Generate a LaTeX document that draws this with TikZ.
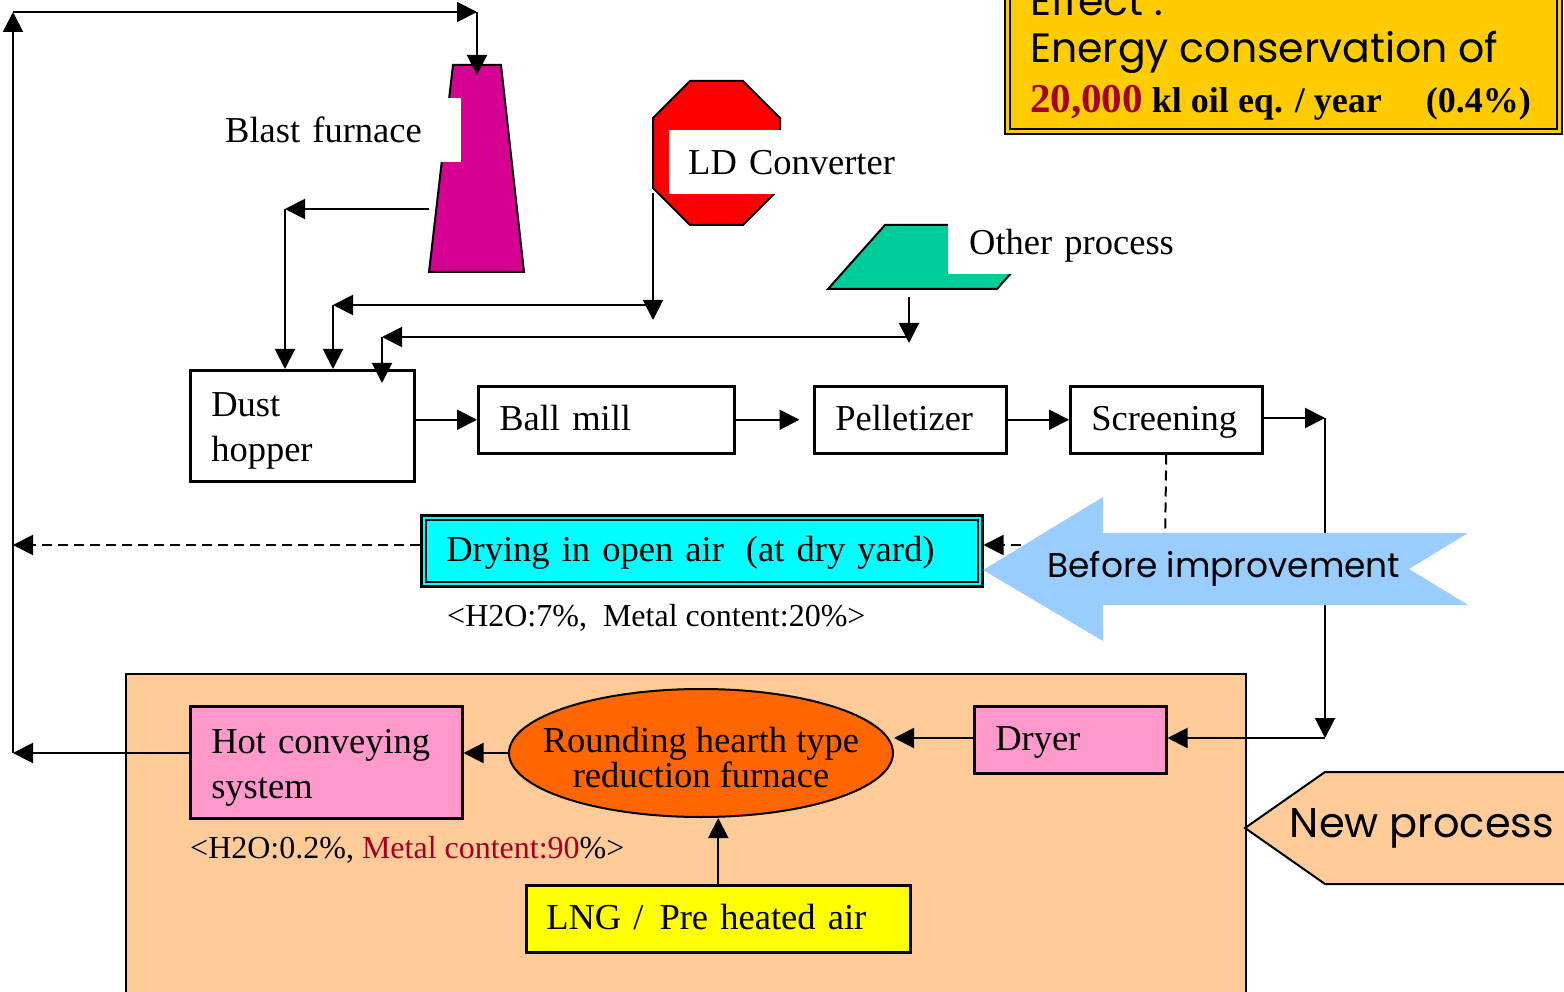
\documentclass[tikz,border=0pt]{standalone}
\usepackage{fontspec}
\setmainfont{Liberation Serif}
\newfontfamily\geofont{Poppins}
\usetikzlibrary{arrows.meta,shapes.geometric}
\definecolor{furnmag}{HTML}{D60093}
\definecolor{convred}{HTML}{FF0000}
\definecolor{othgreen}{HTML}{00CC99}
\definecolor{drycyan}{HTML}{00FFFF}
\definecolor{boxpink}{HTML}{FF99CC}
\definecolor{furnorange}{HTML}{FF6600}
\definecolor{lngyellow}{HTML}{FFFF00}
\definecolor{newpeach}{HTML}{FFCC99}
\definecolor{effgold}{HTML}{FFCC00}
\definecolor{oldblue}{HTML}{99CCFF}
\definecolor{hilite}{HTML}{A50021}
\newcommand{\bodyfont}{\fontsize{36.5}{45}\selectfont}
\newcommand{\notefont}{\fontsize{32}{38}\selectfont}
\newcommand{\firstline}{\rule{0pt}{35pt}}

\begin{document}
\begin{tikzpicture}[x=1pt,y=-1pt,
  conn/.style={line width=2pt,-{Triangle[length=20pt,width=20pt]}},
  dconn/.style={conn,dash pattern=on 10pt off 6pt},
  dline/.style={line width=2pt,dash pattern=on 10pt off 6pt},
  procbox/.style={draw,line width=2.5pt,rectangle,anchor=north west,inner xsep=21pt,inner ysep=0pt,align=left,font=\bodyfont},
  oneline/.style={text height=29pt,text depth=7pt},
  tag/.style={fill=white,rectangle,anchor=north west,inner ysep=0pt,align=left,font=\bodyfont},
  outline/.style={draw,line width=2pt}]

\useasboundingbox (0,0) rectangle (1564,992);
\clip (0,0) rectangle (1564,992);

% ---------- area of the new process ----------
\node[outline,fill=newpeach,anchor=north west,minimum width=1120pt,minimum height=340pt,inner sep=0] (region) at (125,673) {};

% ---------- sources ----------
% blast furnace
\draw[outline,fill=furnmag] (453,65) -- (501,65) -- (524,272) -- (429,272) -- cycle;
\node[tag,text width=226pt,inner xsep=10pt,minimum height=64pt] (bflabel) at (215,98) {Blast furnace};
% LD converter
\draw[outline,fill=convred] (690,81) -- (743,81) -- (780,118) -- (780,188) -- (743,225) -- (690,225) -- (653,188) -- (653,118) -- cycle;
\node[tag,text width=215pt,inner xsep=19pt,minimum height=64pt] (ldlabel) at (669,130) {LD Converter};
% other process
\draw[outline,fill=othgreen] (885,225) -- (1054,225) -- (997,289) -- (828,289) -- cycle;
\node[tag,oneline,text width=215pt,inner xsep=21pt,minimum height=62pt] (oplabel) at (948,212) {Other process};

% ---------- conventional line ----------
\node[procbox,text width=182pt,minimum height=111pt] (hop) at (189,369) {\firstline Dust\\hopper};
\node[procbox,oneline,text width=214pt,minimum height=67pt] (mill) at (477,385) {Ball mill};
\node[procbox,oneline,text width=150pt,minimum height=67pt] (pel) at (813,385) {Pelletizer};
\node[procbox,oneline,text width=150pt,minimum height=67pt] (scr) at (1069,385) {Screening};

\node[procbox,oneline,fill=drycyan,inner xsep=25pt,text width=511pt,minimum height=71pt] (dryyard) at (420,514) {Drying in open air\hspace{22pt}(at dry yard)};
\draw[line width=2pt] ([shift={(6,6)}]dryyard.north west) rectangle ([shift={(-6,-6)}]dryyard.south east);
\node[font=\notefont,anchor=base west,inner sep=0] (oldnote) at (447,626) {<H2O:7\%,\ \ Metal content:20\%>};

% ---------- new line ----------
\node[procbox,fill=boxpink,text width=230pt,minimum height=112pt] (hot) at (189,705) {\firstline Hot conveying\\system};
\node[draw,line width=2pt,fill=furnorange,ellipse,minimum width=384pt,minimum height=128pt,inner sep=0,
  label={[font=\fontsize{36.5}{35}\selectfont,align=center,yshift=-5pt]center:Rounding hearth type\\reduction furnace}] (furn) at (701,753) {};
\node[procbox,oneline,fill=boxpink,text width=150pt,minimum height=67pt] (dryer) at (973,705) {Dryer};
\node[procbox,oneline,fill=lngyellow,inner xsep=20pt,text width=344pt,minimum height=67pt] (lng) at (525,884) {LNG /\hspace{16pt}Pre heated air};
\node[font=\notefont,anchor=base west,inner sep=0] (newnote) at (190,858) {<H2O:0.2\%, {\color{hilite}Metal content:90}\%>};

\draw[outline,fill=newpeach] (1245,828) -- (1325,772) -- (1580,772) -- (1580,884) -- (1325,884) -- cycle;
\node[font=\geofont\fontsize{41.5}{48}\selectfont] (newlbl) at (1422,828) {New process};

% ---------- effect ----------
\draw[line width=2.5pt,fill=effgold] (1005,-20) rectangle (1562,134);
\draw[line width=2pt] (1010,-20) rectangle (1557,129);
\node[anchor=base west,inner sep=0,font=\geofont\fontsize{41}{48}\selectfont] (eff1) at (1030,16) {Effect :};
\node[anchor=base west,inner sep=0,font=\geofont\fontsize{41}{48}\selectfont] (eff2) at (1030,63) {Energy conservation of};
\node[anchor=base west,inner sep=0] (eff3) at (1030,113) {{\color{hilite}\fontsize{41}{46}\selectfont\bfseries 20,000}\fontsize{36}{42}\selectfont\bfseries\ kl oil eq. / year\hspace{44pt}(0.4\%)};

% ---------- connectors ----------
\coordinate (bfin) at (477,75);
\coordinate (bfout) at (429,209);
\coordinate (bfc) at (285,209);
\coordinate (ldout) at (653,193);
\coordinate (ldend) at (653,320);
\coordinate (ldh) at (653,305);
\coordinate (ldc) at (333,305);
\coordinate (opout) at (909,297);
\coordinate (opend) at (909,343);
\coordinate (oph) at (909,337);
\coordinate (opc) at (382,337);
\coordinate (hopin) at (382,383);
\coordinate (scrc) at (1325,418);
\coordinate (scrd) at (1325,738);
\coordinate (dashc) at (1165,545);
\coordinate (dashl) at (13,545);
\coordinate (loopa) at (13,753);
\coordinate (loopb) at (13,12);
\coordinate (loopc) at (477,12);

\draw[conn] (hot.west |- loopa) -- (loopa);
\draw[conn] (loopa) -- (loopb);
\draw[conn] (loopb) -- (loopc);
\draw[conn] (loopc) -- (bfin);

\draw[conn] (bfout) -- (bfc);
\draw[conn] (bfc) -- (bfc |- hop.north);
\draw[conn] (ldout) -- (ldend);
\draw[conn] (ldh) -- (ldc);
\draw[conn] (ldc) -- (ldc |- hop.north);
\draw[conn] (opout) -- (opend);
\draw[conn] (oph) -- (opc);
\draw[conn] (opc) -- (hopin);

\draw[conn] (hop.east |- mill.west) -- (mill.west);
\draw[conn] (mill.east) -- ([xshift=64pt]mill.east);
\draw[conn] (pel.east) -- (scr.west);
\draw[conn] (scrc -| scr.east) -- (scrc);
\draw[conn] (scrc) -- (scrd);
\draw[conn] (scrd) -- (scrd -| dryer.east);

\draw[dline] (scr.south) -- (dashc);
\draw[dconn] (dashc) -- (dashc -| dryyard.east);
\draw[dconn] (dashl -| dryyard.west) -- (dashl);

\draw[conn] (scrd -| dryer.west) -- (scrd -| furn.east);
\draw[conn] (furn.west) -- (furn.west -| hot.east);
\draw[conn] (lng.north) -- (lng.north |- furn.south);

% ---------- marker of the former route ----------
\fill[oldblue] (983,570) -- (1103,497) -- (1103,533) -- (1468,533) -- (1409,569) -- (1468,605) -- (1103,605) -- (1103,641) -- cycle;
\node[font=\geofont\fontsize{34.4}{40}\selectfont] (oldlbl) at (1224,569) {Before improvement};

\end{tikzpicture}
\end{document}
